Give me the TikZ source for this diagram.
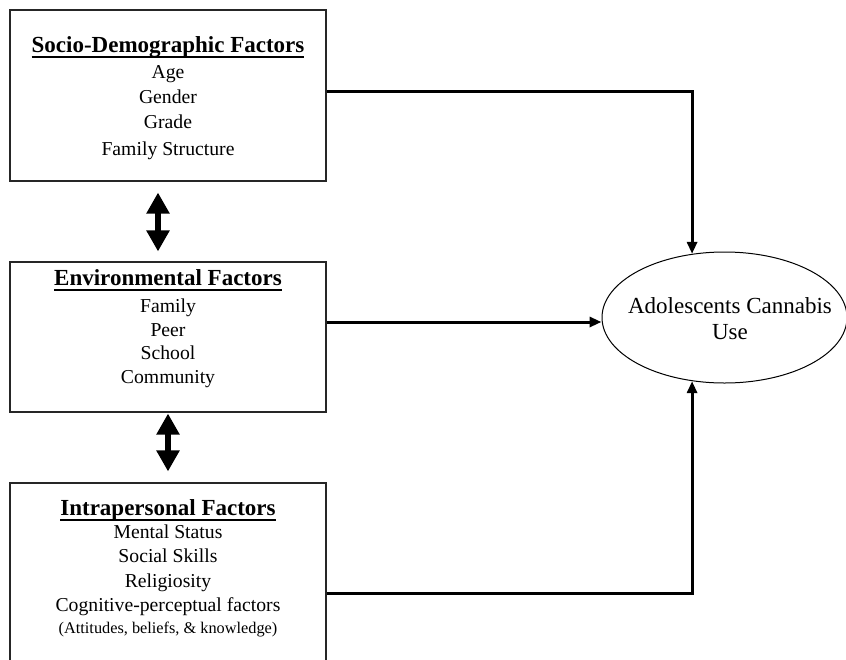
\documentclass[tikz,border=0pt]{standalone}
\usepackage{fontspec}
\setmainfont{Liberation Serif}
\usetikzlibrary{arrows.meta,shapes.geometric}
\newcommand\myul[1]{\setbox0\hbox{#1}\rlap{\rule[-5.6pt]{\wd0}{1.4pt}}\box0}
\begin{document}
\begin{tikzpicture}[x=1pt,y=-1pt,
  box/.style={draw=black!85, line width=1.1pt, minimum width=316pt, inner sep=0pt},
  ttl/.style={anchor=base, font=\fontsize{23}{26}\selectfont\bfseries, inner sep=0pt},
  item/.style={anchor=base, font=\fontsize{19.7}{24}\selectfont, inner sep=0pt},
  smallitem/.style={anchor=base, font=\fontsize{16.3}{20}\selectfont, inner sep=0pt},
  outtxt/.style={anchor=base, font=\fontsize{23}{26}\selectfont, inner sep=0pt},
  conn/.style={line width=3pt, -{Triangle[width=10pt,length=12pt]}},
  dbl/.style={line width=6.5pt, {Triangle[width=22pt,length=21pt]}-{Triangle[width=22pt,length=21pt]}},
  oval/.style={draw, ellipse, line width=1pt, minimum width=245pt, minimum height=131pt, inner sep=0pt}]
\useasboundingbox (0,0) rectangle (846,659);
\clip (0,0) rectangle (846,659);

% boxes
\node[box, minimum height=171pt] (top) at (168,95.5) {};
\node[box, minimum height=150pt] (mid) at (168,337) {};
\node[box, minimum height=220pt] (bot) at (168,593) {};
\node[oval] (out) at (724.5,317.5) {};
\node[outtxt] (outa) at (730,313) {Adolescents Cannabis};
\node[outtxt] (outb) at (730,339) {Use};

% top box text
\node[ttl] (t1) at (168,52) {\myul{Socio-Demographic Factors}};
\node[item] (t1a) at (168,78) {Age};
\node[item] (t1b) at (168,103) {Gender};
\node[item] (t1c) at (168,128) {Grade};
\node[item] (t1d) at (168,155) {Family Structure};

% middle box text
\node[ttl] (t2) at (168,285) {\myul{Environmental Factors}};
\node[item] (t2a) at (168,312) {Family};
\node[item] (t2b) at (168,336) {Peer};
\node[item] (t2c) at (168,359) {School};
\node[item] (t2d) at (168,383) {Community};

% bottom box text
\node[ttl] (t3) at (168,515) {\myul{Intrapersonal Factors}};
\node[item] (t3a) at (168,538) {Mental Status};
\node[item] (t3b) at (168,562) {Social Skills};
\node[item] (t3c) at (168,587) {Religiosity};
\node[item] (t3d) at (168,611) {Cognitive-perceptual factors};
\node[smallitem] (t3e) at (168,633) {(Attitudes, beliefs, \& knowledge)};

% double arrows
\draw[dbl, shorten <=11pt, shorten >=10pt] ([xshift=-10pt]top.south) -- ([xshift=-10pt]mid.north);
\draw[dbl, shorten <=1pt, shorten >=11pt] (mid.south) -- (bot.north);

% connectors
\draw[conn] ([yshift=4.5pt]top.east) -| (out.117);
\draw[conn] ([yshift=15pt]mid.east) -- ([yshift=15pt]mid.east -| out.west);
\draw[conn] (bot.east) -| (out.243);
\end{tikzpicture}
\end{document}
